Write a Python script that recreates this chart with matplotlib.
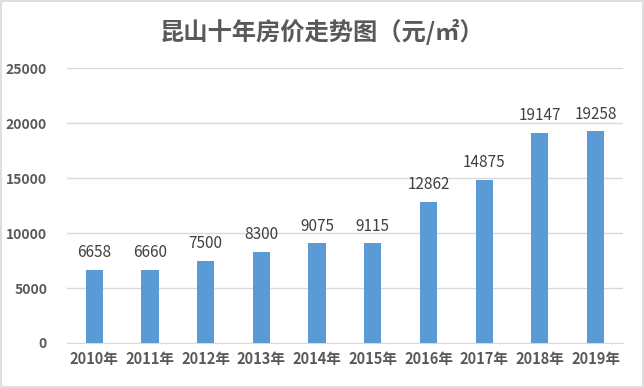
import matplotlib
matplotlib.use('Agg')
import matplotlib.pyplot as plt
from matplotlib.patches import Rectangle

plt.rcParams['font.family'] = ['Noto Sans CJK SC', 'DejaVu Sans']

years = ['2010年', '2011年', '2012年', '2013年', '2014年',
         '2015年', '2016年', '2017年', '2018年', '2019年']
prices = [6658, 6660, 7500, 8300, 9075, 9115, 12862, 14875, 19147, 19258]
yticks = [0, 5000, 10000, 15000, 20000, 25000]

fig = plt.figure(figsize=(6.44, 3.88), dpi=100)
ax = fig.add_axes([0.1033, 0.116, 0.8647, 0.708])

x = range(len(years))
bars = ax.bar(x, prices, width=0.31, color='#5B9BD5', zorder=3)
for xi, v in zip(x, prices):
    ax.annotate(str(v), (xi, v), xytext=(0, 6), textcoords='offset points',
                ha='center', va='bottom', fontsize=11, color='#404040')

ax.set_xlim(-0.5, len(years) - 0.5)
ax.set_ylim(0, 25000)
ax.set_yticks(yticks)
ax.set_yticklabels([str(t) for t in yticks], fontsize=10, color='#595959',
                   fontweight='bold')
ax.set_xticks(list(x))
ax.set_xticklabels(years, fontsize=10.5, color='#595959', fontweight='bold')
ax.tick_params(axis='y', length=0, pad=14)
ax.tick_params(axis='x', length=0, pad=6)
ax.grid(axis='y', color='#D9D9D9', linewidth=1, zorder=0)
for s in ['top', 'right', 'left']:
    ax.spines[s].set_visible(False)
ax.spines['bottom'].set_color('#D9D9D9')

fig.text(0.5, 0.918, '昆山十年房价走势图（元/㎡）', ha='center', va='center',
         fontsize=17.5, fontweight='bold', color='#595959')

fig.patches.append(Rectangle((0.002, 0.003), 0.996, 0.994, transform=fig.transFigure,
                             fill=False, edgecolor='#D9D9D9', linewidth=1.2))

fig.savefig('out.png', dpi=100)
